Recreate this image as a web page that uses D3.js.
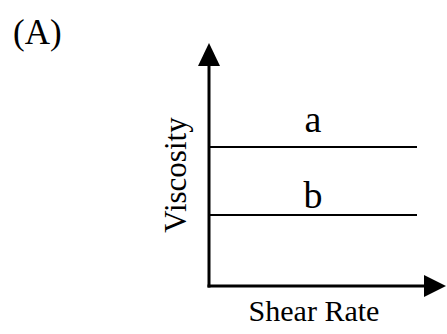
<!DOCTYPE html>
<html>
<head>
  <meta charset="UTF-8">
  <style>
    body { margin: 0; background: #fff; }
    text { font-family: "Liberation Serif", "Times New Roman", serif; fill: #000; }
  </style>
</head>
<body>
<div id="chart_div"></div>
<script src="https://d3js.org/d3.v7.min.js"></script>
<script>

// data: two Newtonian fluids, constant viscosity vs shear rate
const seriesNames = ["a", "b"];
const viscosity = [0.572, 0.292];
const shearRange = [0, 1];
const panelLabel = "(A)";
const xTitle = "Shear Rate";
const yTitle = "Viscosity";

let width = 447, height = 334;

let svg = d3.select("#chart_div")
    .append("svg")
    .attr("width", width)
    .attr("height", height);

let x = d3.scaleLinear().domain([0, 1]).range([209, 417]);
let y = d3.scaleLinear().domain([0, 1]).range([286, 43]);

// axes with arrow heads
const axisEndX = x.invert(446);
svg.append("line")
    .attr("x1", x(0)).attr("y1", y(0) + 1.5)
    .attr("x2", x(0)).attr("y2", y(1) + 12)
    .attr("stroke", "#000").attr("stroke-width", 3);
svg.append("line")
    .attr("x1", x(0) - 1.5).attr("y1", y(0))
    .attr("x2", x(axisEndX) - 12).attr("y2", y(0))
    .attr("stroke", "#000").attr("stroke-width", 3);

svg.append("path")
    .attr("d", d3.line()([[x(0), y(1)], [x(0) - 11, y(1) + 23], [x(0) + 11, y(1) + 23]]) + "Z")
    .attr("fill", "#000");
svg.append("path")
    .attr("d", d3.line()([[x(axisEndX), y(0)], [x(axisEndX) - 22, y(0) - 11], [x(axisEndX) - 22, y(0) + 11]]) + "Z")
    .attr("fill", "#000");

// horizontal lines
let series = seriesNames.map((n, i) => ({name: n, v: viscosity[i]}));
const labelGap = [15, 7];

svg.append("g")
    .selectAll("line")
    .data(series)
    .enter()
        .append("line")
        .attr("x1", x(shearRange[0]))
        .attr("x2", x(shearRange[1]))
        .attr("y1", d => y(d.v))
        .attr("y2", d => y(d.v))
        .attr("stroke", "#000")
        .attr("stroke-width", 2);

svg.append("g")
    .selectAll("text")
    .data(series)
    .enter()
        .append("text")
        .attr("x", x(0.5))
        .attr("y", (d, i) => y(d.v) - labelGap[i])
        .attr("text-anchor", "middle")
        .style("font-size", "38px")
        .text(d => d.name);

// titles
svg.append("text")
    .attr("x", 314).attr("y", 321)
    .attr("text-anchor", "middle")
    .style("font-size", "30px")
    .text(xTitle);

svg.append("text")
    .attr("transform", "translate(186,175) rotate(-90)")
    .attr("text-anchor", "middle")
    .style("font-size", "31px")
    .text(yTitle);

svg.append("text")
    .attr("x", 13).attr("y", 44)
    .style("font-size", "35px")
    .text(panelLabel);

</script>
</body>
</html>
